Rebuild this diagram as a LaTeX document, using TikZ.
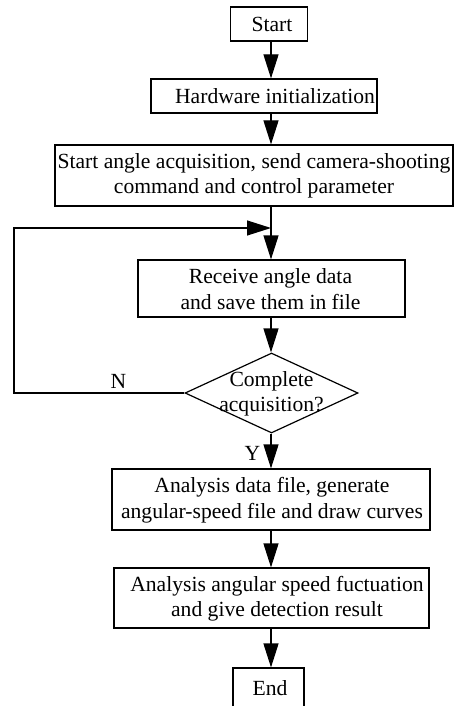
\documentclass[tikz,border=0pt]{standalone}
\usepackage{fontspec}
\setmainfont{Liberation Serif}
\usetikzlibrary{arrows.meta,shapes.geometric}

\begin{document}
\begin{tikzpicture}[x=1pt,y=-1pt,
  every node/.style={font=\fontsize{21.6}{25.5}\selectfont},
  box/.style={draw,line width=1.2pt,rectangle,inner sep=0pt},
  txt/.style={align=center,inner sep=0pt},
  flow/.style={line width=1.2pt,-{Triangle[length=24pt,width=15pt]}},
  wire/.style={line width=1.2pt}]
\clip (0,0) rectangle (454,706);

% main vertical axis of the chart
\coordinate (axis) at (271,0);

% boxes
\node[box,minimum width=77pt,minimum height=34pt] (start) at (269,24) {};
\node[txt] (startt) at (272,24) {Start};

\node[box,minimum width=226pt,minimum height=34pt] (hw) at (264,96) {};
\node[txt] (hwt) at (275,96) {Hardware initialization};

\node[box,minimum width=398pt,minimum height=61pt] (sa) at (254,175.5) {};
\node[txt] (sat) at (254,176) {Start angle acquisition, send camera-shooting\\command and control parameter};

\node[box,minimum width=267pt,minimum height=57pt] (recv) at (271.5,288.5) {};
\node[txt] (recvt) at (270.5,289) {Receive angle data\\and save them in file};

\node[draw,line width=1.2pt,diamond,minimum width=173pt,minimum height=80pt,inner sep=0pt] (dec) at (271.5,393) {};
\node[txt] (dect) at (271.5,394) {Complete\\acquisition?};

\node[box,minimum width=318pt,minimum height=61pt] (an1) at (271,499.5) {};
\node[txt] (an1t) at (272,500) {Analysis data file, generate\\angular-speed file and draw curves};

\node[box,minimum width=315pt,minimum height=60pt] (an2) at (271.5,598) {};
\node[txt] (an2t) at (277,598.5) {Analysis angular speed fuctuation\\and give detection result};

\node[box,minimum width=71pt,minimum height=42pt] (end) at (268.5,689) {};
\node[txt] (endt) at (270,688) {End};

% connectors
\coordinate (join) at (271,228);
\coordinate (loopl) at (14,393);
\coordinate (loopt) at (14,228);

\draw[flow] (start.south -| axis) -- (hw.north -| axis);
\draw[flow] (hw.south -| axis) -- (sa.north -| axis);
\draw[flow] (sa.south -| axis) -- (recv.north -| axis);
\draw[flow] (recv.south -| axis) -- (dec.north -| axis);
\draw[flow] (dec.south -| axis) -- (an1.north -| axis);
\draw[flow] (an1.south -| axis) -- (an2.north -| axis);
\draw[flow] (an2.south -| axis) -- (end.north -| axis);
\draw[wire] (dec.west) -- (loopl) -- (loopt) -- ([xshift=-8pt]join);
\draw[flow] ([xshift=-30pt]join) -- (join);

% branch labels
\node[txt] (nlab) at (118.5,381) {N};
\node[txt] (ylab) at (252.5,453) {Y};
\end{tikzpicture}
\end{document}
